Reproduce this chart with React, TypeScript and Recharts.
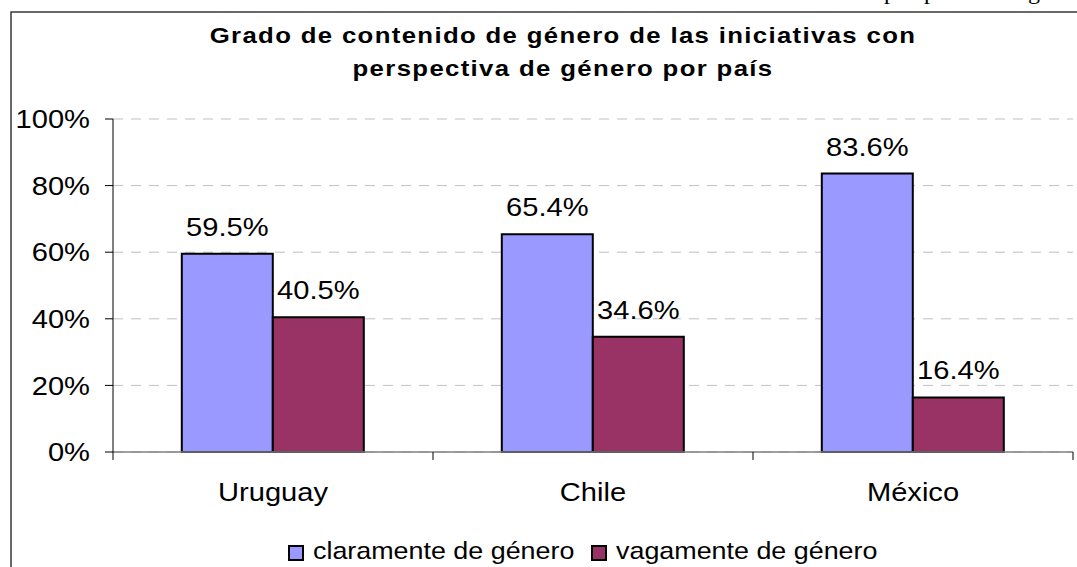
import React from "react";
import {
  BarChart,
  Bar,
  XAxis,
  YAxis,
  CartesianGrid,
  LabelList,
} from "recharts";

const categories = ["Uruguay", "Chile", "México"];
const claramente = [59.5, 65.4, 83.6];
const vagamente = [40.5, 34.6, 16.4];
const seriesNames = ["claramente de género", "vagamente de género"];
const seriesColors = ["#9999FF", "#993366"];
const yTicks = [0, 20, 40, 60, 80, 100];
const titleLines = [
  "Grado de contenido de género de las iniciativas con",
  "perspectiva de género por país",
];
const captionFragment = "perspectiva de género";

const data = categories.map((name, i) => ({
  name,
  claramente: claramente[i],
  vagamente: vagamente[i],
}));

const FONT = "'Liberation Sans', Arial, sans-serif";
const SX = 1.12; // text in the reference is slightly stretched horizontally

const YTick = (p: any) => (
  <text
    x={0}
    y={0}
    transform={`translate(${p.x},${p.y}) scale(${SX},1)`}
    textAnchor="end"
    dy="0.355em"
    fontSize={26}
    fontFamily={FONT}
    fill="#000"
  >
    {p.payload.value}%
  </text>
);

const XTick = (p: any) => {
  const half = p.payload.offset ?? 160;
  return (
    <g>
      {p.index === 0 && (
        <line x1={p.x - half} x2={p.x - half} y1={p.y} y2={p.y + 8} stroke="#000" />
      )}
      <line x1={p.x + half} x2={p.x + half} y1={p.y} y2={p.y + 8} stroke="#000" />
      <text
        x={0}
        y={0}
        transform={`translate(${p.x},${p.y + 40}) scale(${SX},1)`}
        textAnchor="middle"
        dy="0.355em"
        fontSize={26}
        fontFamily={FONT}
        fill="#000"
      >
        {p.payload.value}
      </text>
    </g>
  );
};

const BarLabel = (p: any) => (
  <text
    x={0}
    y={0}
    transform={`translate(${p.x + p.width / 2},${p.y - 18}) scale(${SX},1)`}
    textAnchor="middle"
    fontSize={26}
    fontFamily={FONT}
    fill="#000"
  >
    {Number(p.value).toFixed(1)}%
  </text>
);

const legendPos = [
  { box: 289, text: 313 },
  { box: 592, text: 616 },
];

export default function App() {
  return (
    <div
      style={{
        position: "fixed",
        left: 0,
        top: 0,
        width: 1077,
        height: 567,
        background: "#fff",
        overflow: "hidden",
      }}
    >
      <BarChart
        width={1077}
        height={567}
        data={data}
        margin={{ top: 119, right: 4, left: 13, bottom: 55 }}
        barCategoryGap="21.5%"
        barGap={0}
      >
        <CartesianGrid
          vertical={false}
          stroke="#c0c0c0"
          strokeDasharray="10 8"
        />
        <XAxis
          dataKey="name"
          height={60}
          stroke="#7f7f7f"
          strokeWidth={1.5}
          tickLine={false}
          tickSize={0}
          tickMargin={0}
          tick={<XTick />}
          interval={0}
        />
        <YAxis
          width={100}
          domain={[0, 100]}
          ticks={yTicks}
          stroke="#000"
          tickSize={8}
          tickMargin={15}
          tick={<YTick />}
          interval={0}
        />
        <Bar
          dataKey="claramente"
          name={seriesNames[0]}
          fill={seriesColors[0]}
          stroke="#000"
          strokeWidth={2}
          isAnimationActive={false}
        >
          <LabelList dataKey="claramente" content={BarLabel} />
        </Bar>
        <Bar
          dataKey="vagamente"
          name={seriesNames[1]}
          fill={seriesColors[1]}
          stroke="#000"
          strokeWidth={2}
          isAnimationActive={false}
        >
          <LabelList dataKey="vagamente" content={BarLabel} />
        </Bar>
      </BarChart>

      <svg
        width={1077}
        height={567}
        style={{ position: "absolute", left: 0, top: 0, pointerEvents: "none" }}
      >
        <text
          x={884}
          y={-1}
          fontSize={24}
          fontFamily="'Liberation Serif', 'Times New Roman', serif"
          fill="#000"
        >
          {captionFragment}
        </text>
        <rect
          x={11}
          y={12}
          width={1200}
          height={700}
          fill="none"
          stroke="#1a1a1a"
          strokeWidth={1.3}
        />
        {titleLines.map((t, i) => (
          <text
            key={i}
            x={0}
            y={0}
            transform={`translate(563,${43 + i * 33}) scale(${SX},1)`}
            textAnchor="middle"
            fontSize={23}
            fontWeight="bold"
            letterSpacing={1.2}
            fontFamily={FONT}
            fill="#000"
          >
            {t}
          </text>
        ))}
        {seriesNames.map((n, i) => (
          <g key={n}>
            <rect
              x={legendPos[i].box}
              y={546}
              width={14}
              height={14}
              fill={seriesColors[i]}
              stroke="#000"
              strokeWidth={2}
            />
            <text
              x={0}
              y={0}
              transform={`translate(${legendPos[i].text},559) scale(${SX},1)`}
              fontSize={24}
              fontFamily={FONT}
              fill="#000"
            >
              {n}
            </text>
          </g>
        ))}
      </svg>
    </div>
  );
}
